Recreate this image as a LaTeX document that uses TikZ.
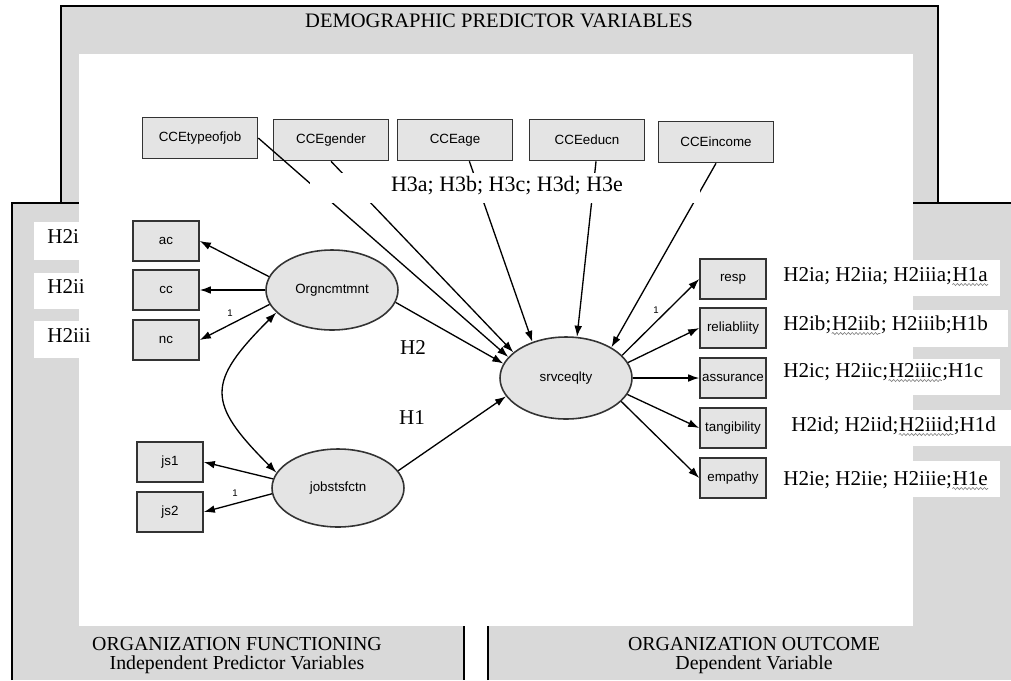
\documentclass[tikz,border=0pt]{standalone}
\usepackage{fontspec}
\setmainfont{Liberation Serif}
\newfontfamily\arialf{Liberation Sans}
\usetikzlibrary{arrows.meta,shapes.geometric,decorations.pathmorphing}
\definecolor{panelgray}{HTML}{D9D9D9}
\definecolor{nodegray}{HTML}{E4E4E4}
\begin{document}
\begin{tikzpicture}[x=0.02cm,y=-0.02cm,
  box/.style={draw=black!80, line width=0.9pt, fill=nodegray, minimum width=1.32cm, minimum height=0.8cm, inner sep=0pt, font=\arialf\fontsize{7.6}{9}\selectfont},
  topbox/.style={box, minimum width=2.3cm, minimum height=0.82cm},
  lat/.style={ellipse, draw=black!80, line width=0.9pt, fill=nodegray, minimum width=2.64cm, minimum height=1.6cm, inner sep=0pt, font=\arialf\fontsize{7.6}{9}\selectfont},
  arr/.style={-{Latex[length=6.3pt,width=4.4pt]}, line width=0.75pt},
  darr/.style={{Latex[length=6.3pt,width=4.4pt]}-{Latex[length=6.3pt,width=4.4pt]}, line width=0.75pt},
  hlab/.style={font=\fontsize{12}{14}\selectfont, inner sep=0pt},
  rl/.style={hlab, anchor=base west},
  ttl/.style={font=\fontsize{11.7}{14}\selectfont, inner sep=0pt},
  btl/.style={font=\fontsize{11.3}{13}\selectfont, inner sep=0pt},
  one/.style={font=\arialf\fontsize{5.5}{6}\selectfont, inner sep=0pt},
  wavy/.style={draw=gray, line width=0.35pt, decorate, decoration={snake, segment length=2.2pt, amplitude=0.6pt}}
]
\useasboundingbox (0,0) rectangle (1011,680);
% panels
\filldraw[fill=panelgray, draw=black, line width=0.8pt] (61,6) rectangle (938,215);
\fill[panelgray] (12,203) rectangle (464,680);
\draw[line width=0.8pt] (12,680) -- (12,203) -- (464,203) -- (464,680);
\fill[panelgray] (488,203) rectangle (1011,680);
\draw[line width=0.8pt] (488,680) -- (488,203) -- (1011,203);
\fill[white] (79,54) rectangle (913,626);
% label boxes
\fill[white] (34,222) rectangle (80,260);
\fill[white] (34,273) rectangle (80,309);
\fill[white] (34,321) rectangle (80,358);
\fill[white] (900,260) rectangle (1000,296);
\fill[white] (900,310) rectangle (1008,347);
\fill[white] (900,359) rectangle (1000,395);
\fill[white] (900,410) rectangle (1011,446);
\fill[white] (900,461) rectangle (1000,497);
% titles
\node[ttl] (tdemo) at (499,21) {DEMOGRAPHIC PREDICTOR VARIABLES};
\node[btl, anchor=base] (tof1) at (237,650) {ORGANIZATION FUNCTIONING};
\node[btl, anchor=base] (tof2) at (237,669) {Independent Predictor Variables};
\node[btl, anchor=base] (too1) at (754,650) {ORGANIZATION OUTCOME};
\node[btl, anchor=base] (too2) at (754,669) {Dependent Variable};
% nodes
\node[topbox] (typ) at (200,138) {CCEtypeofjob};
\node[topbox] (gen) at (331,140) {CCEgender};
\node[topbox] (age) at (455,140) {CCEage};
\node[topbox] (edu) at (587,140) {CCEeducn};
\node[topbox] (inc) at (716,142) {CCEincome};
\node[box] (ac) at (166,241) {ac};
\node[box] (cc) at (166,290) {cc};
\node[box] (nc) at (166,340) {nc};
\node[box] (js1) at (170,462) {js1};
\node[box] (js2) at (170,512) {js2};
\node[lat] (org) at (332,290) {Orgncmtmnt};
\node[lat, minimum height=1.56cm] (job) at (338,488) {jobstsfctn};
\node[lat, minimum height=1.64cm] (srv) at (566,378) {srvceqlty};
\node[box] (resp) at (733,279) {resp};
\node[box] (rel) at (733,328) {reliabliity};
\node[box] (ass) at (733,378) {assurance};
\node[box] (tan) at (733,428) {tangibility};
\node[box] (emp) at (733,478) {empathy};
% edges
\draw[arr] (typ.east) -- (srv.160);
\draw[arr] (gen.south) -- (srv.154);
\draw[arr] (age.-56) -- (srv.133);
\draw[arr] (edu.-67) -- (srv.75);
\draw[arr] (inc.south) -- (srv.34);
\draw[arr] (org.-11) -- (srv.167);
\draw[arr] (job.16) -- (srv.197);
\draw[arr] (org.168) -- (ac.east);
\draw[arr] (org.180) -- (cc.east);
\draw[arr] (org.193) -- (nc.east);
\draw[arr] (job.172) -- (js1.east);
\draw[arr] (job.185) -- (js2.east);
\draw[darr] (org.202) .. controls +(-70,70) and +(-70,-70) .. (job.166);
\draw[arr] (srv.22) -- (resp.west);
\draw[arr] (srv.14) -- (rel.west);
\draw[arr] (srv.0) -- (ass.west);
\draw[arr] (srv.-15) -- (tan.west);
\draw[arr] (srv.-23) -- (emp.west);
% mask behind H3 label
\fill[white] (310,173) rectangle (700,203);
\node[hlab, font=\fontsize{12.5}{14}\selectfont] (h3) at (507,186) {H3a; H3b; H3c; H3d; H3e};
\node[hlab] (h2) at (413,348) {H2};
\node[hlab] (h1) at (412,418) {H1};
\node[one] (o1) at (230,313) {1};
\node[one] (o2) at (235,493) {1};
\node[one] (o3) at (656,310) {1};
% left labels
\node[rl] (l1) at (47,243) {H2i};
\node[rl] (l2) at (47,293) {H2ii};
\node[rl] (l3) at (47,342) {H2iii};
% right labels
\node[rl] (r1a) at (783,281) {H2ia; H2iia; H2iiia;};
\node[rl] (r1b) at (r1a.base east) {H1a};
\node[rl] (r2a) at (783,330) {H2ib;};
\node[rl] (r2b) at (r2a.base east) {H2iib};
\node[rl] (r2c) at (r2b.base east) {; H2iiib;H1b};
\node[rl] (r3a) at (783,377) {H2ic; H2iic;};
\node[rl] (r3b) at (r3a.base east) {H2iiic};
\node[rl] (r3c) at (r3b.base east) {;H1c};
\node[rl] (r4a) at (791,431) {H2id; H2iid;};
\node[rl] (r4b) at (r4a.base east) {H2iiid};
\node[rl] (r4c) at (r4b.base east) {;H1d};
\node[rl] (r5a) at (783,485) {H2ie; H2iie; H2iiie;};
\node[rl] (r5b) at (r5a.base east) {H1e};
\draw[wavy] ([yshift=-2pt]r1b.base west) -- ([yshift=-2pt]r1b.base east);
\draw[wavy] ([yshift=-2pt]r2b.base west) -- ([yshift=-2pt]r2b.base east);
\draw[wavy] ([yshift=-2pt]r3b.base west) -- ([yshift=-2pt]r3b.base east);
\draw[wavy] ([yshift=-2pt]r4b.base west) -- ([yshift=-2pt]r4b.base east);
\draw[wavy] ([yshift=-2pt]r5b.base west) -- ([yshift=-2pt]r5b.base east);
\end{tikzpicture}
\end{document}
